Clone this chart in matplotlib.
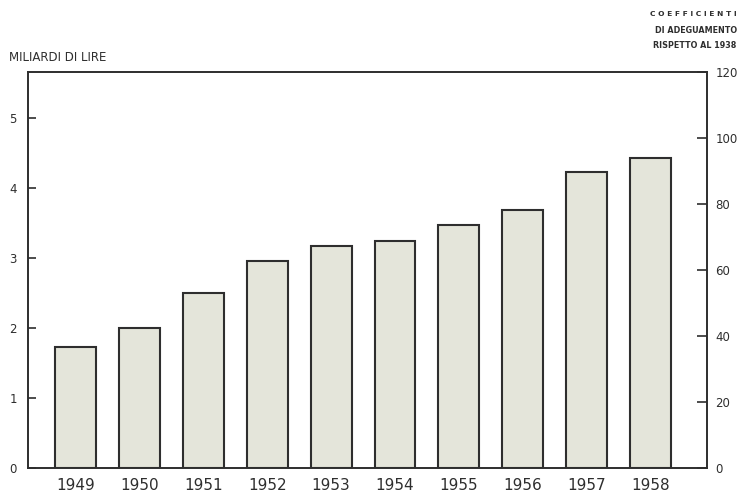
import matplotlib.pyplot as plt
import numpy as np

# dati (miliardi di lire)
years = ["1949", "1950", "1951", "1952", "1953", "1954", "1955", "1956", "1957", "1958"]
miliardi = [1.73, 2.0, 2.5, 2.96, 3.17, 3.24, 3.47, 3.69, 4.23, 4.43]
left_ticks = [0, 1, 2, 3, 4, 5]
right_ticks = [0, 20, 40, 60, 80, 100, 120]

ink = "#2e2e2e"
plt.rcParams['font.family'] = ['DejaVu Sans']

fig = plt.figure(figsize=(7.39, 5.04), dpi=100)
ax = fig.add_axes([0.0379, 0.0714, 0.9188, 0.7857])

x = np.arange(len(years))
ax.bar(x, miliardi, width=0.64, color="#e4e5da", edgecolor=ink, linewidth=1.5)

ax.set_xlim(-0.75, 9.89)
ax.set_ylim(0, 5.66)
ax.set_xticks(x)
ax.set_xticklabels(years, fontsize=11, color=ink)
ax.tick_params(axis="x", length=0, pad=7)
ax.set_yticks(left_ticks)
ax.set_yticklabels([str(t) for t in left_ticks], fontsize=8.5, color=ink)
ax.tick_params(axis="y", direction="in", length=6, width=1.2, color=ink, pad=8)
for s in ax.spines.values():
    s.set_color(ink)
    s.set_linewidth(1.4)

ax2 = ax.twinx()
ax2.set_ylim(0, 120)
ax2.set_yticks(right_ticks)
ax2.set_yticklabels([str(t) for t in right_ticks], fontsize=8.5, color=ink)
ax2.tick_params(axis="y", direction="in", length=7, width=1.2, color=ink, pad=6)
for s in ax2.spines.values():
    s.set_visible(False)

fig.text(0.012, 0.885, "MILIARDI DI LIRE", fontsize=8.5, color=ink, va="center", ha="left")
fig.text(0.997, 0.972, "C O E F F I C I E N T I", fontsize=5.4, color=ink, ha="right", va="center", fontweight="bold")
fig.text(0.997, 0.940, "DI ADEGUAMENTO", fontsize=5.8, color=ink, ha="right", va="center", fontweight="bold")
fig.text(0.997, 0.910, "RISPETTO AL 1938", fontsize=5.8, color=ink, ha="right", va="center", fontweight="bold")

fig.savefig("out.png", dpi=100)
